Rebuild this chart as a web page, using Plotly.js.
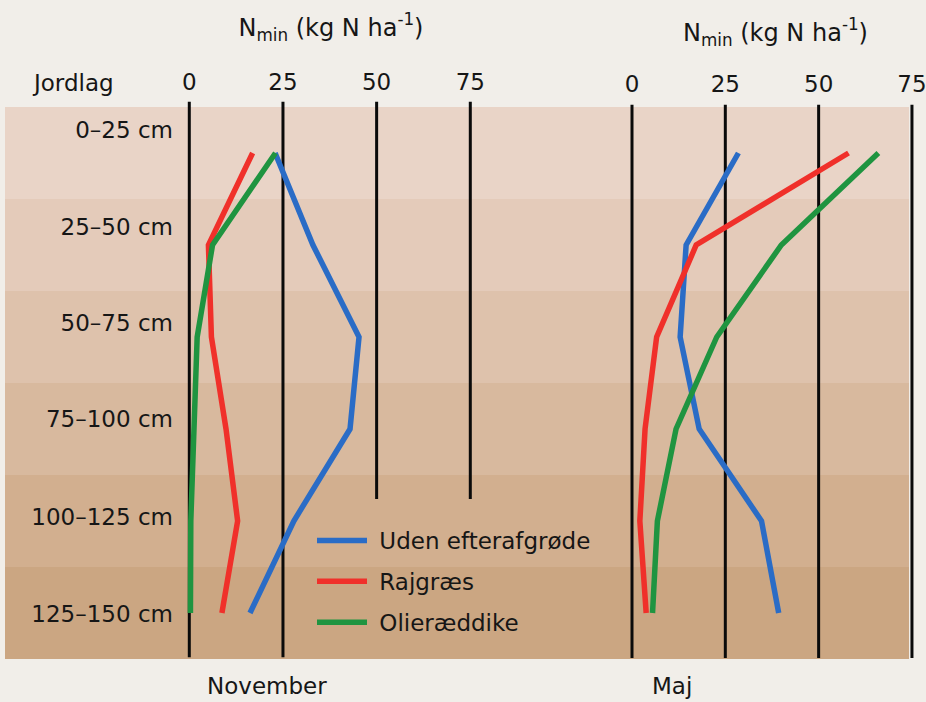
<!DOCTYPE html>
<html>
<head>
<meta charset="utf-8">
<script src="https://cdn.plot.ly/plotly-3.0.1.min.js"></script>
<style>
html,body{margin:0;padding:0;background:#f1eee9;}
#chart{width:926px;height:702px;}
</style>
</head>
<body>
<div id="chart"></div>
<script>
// ---- data ----
const layers = ['0–25 cm', '25–50 cm', '50–75 cm', '75–100 cm', '100–125 cm', '125–150 cm'];
const depthMid = [12.5, 37.5, 62.5, 87.5, 112.5, 137.5];
const novUden = [22.9, 33.0, 45.3, 42.9, 27.9, 16.2];
const novRaj  = [16.9, 5.1, 5.9, 9.8, 12.9, 8.7];
const novOlie = [23.0, 6.2, 2.1, 1.2, 0.4, 0.3];
const majUden = [28.5, 14.5, 12.9, 18.0, 34.7, 39.3];
const majRaj  = [58.0, 17.2, 6.6, 3.5, 2.1, 3.8];
const majOlie = [66.0, 40.0, 22.7, 11.8, 6.8, 5.5];
const nTicks = [0, 25, 50, 75];
const seriesNames = ['Uden efterafgrøde', 'Rajgræs', 'Olieræddike'];

// ---- styling ----
const FONT = 'DejaVu Sans, sans-serif';
const FS = 23;
const TXT = '#161616';
const colors = ['#2a6cc6', '#f0302a', '#1f9440'];
const bandColors = ['#e9d4c7', '#e4cbba', '#dec2ac', '#d8b99e', '#d2af8f', '#cba682'];
const labelDepth = [6.3, 32.6, 58.7, 84.8, 111.4, 137.8];

const W = 926, H = 702;
const px = v => v / W;

const traces = [];
const nov = [novUden, novRaj, novOlie];
const maj = [majUden, majRaj, majOlie];
for (let i = 0; i < 3; i++) {
  traces.push({
    x: nov[i], y: depthMid, type: 'scatter', mode: 'lines',
    name: '\u00a0' + seriesNames[i], legendgroup: 'g' + i,
    line: {color: colors[i], width: 5.5}, xaxis: 'x', yaxis: 'y',
    hoverinfo: 'skip'
  });
}
for (let i = 0; i < 3; i++) {
  traces.push({
    x: maj[i], y: depthMid, type: 'scatter', mode: 'lines',
    name: seriesNames[i], legendgroup: 'g' + i, showlegend: false,
    line: {color: colors[i], width: 5.5}, xaxis: 'x2', yaxis: 'y',
    hoverinfo: 'skip'
  });
}

const shapes = [];
// soil layer bands
for (let i = 0; i < layers.length; i++) {
  shapes.push({
    type: 'rect', xref: 'paper', yref: 'y', layer: 'below',
    x0: px(5), x1: px(909), y0: i * 25, y1: (i + 1) * 25,
    fillcolor: bandColors[i], line: {width: 0}
  });
}
// vertical reference lines
nTicks.forEach(t => {
  shapes.push({
    type: 'line', xref: 'x', yref: 'y', layer: 'below',
    x0: t, x1: t, y0: -1.4, y1: t >= 50 ? 106.5 : 149.5,
    line: {color: '#0a0a0a', width: 3}
  });
  shapes.push({
    type: 'line', xref: 'x2', yref: 'y', layer: 'below',
    x0: t, x1: t, y0: -0.6, y1: 149.7,
    line: {color: '#0a0a0a', width: 3}
  });
});

const titleTxt = 'N<sub>min</sub> (kg N ha<sup>-1</sup>)';
const axFont = {family: FONT, size: FS, color: TXT};
const titleFont = {family: FONT, size: 24, color: TXT};

const layout = {
  width: W, height: H,
  margin: {l: 0, r: 0, t: 0, b: 0},
  paper_bgcolor: '#f1eee9',
  plot_bgcolor: 'rgba(0,0,0,0)',
  font: axFont,
  showlegend: true,
  legend: {
    x: px(312), y: 1 - 519 / H, xanchor: 'left', yanchor: 'top',
    bgcolor: 'rgba(0,0,0,0)', font: axFont,
    tracegroupgap: 8, itemwidth: 50
  },
  xaxis: {
    domain: [px(150), px(512)], range: [-10.49, 86.13],
    side: 'top', anchor: 'y', showgrid: false, zeroline: false, showline: false,
    tickvals: nTicks, ticks: '', tickfont: axFont, ticklabelstandoff: 4,
    ticklabeloverflow: 'allow',
    title: {text: titleTxt, font: titleFont, standoff: 26}
  },
  xaxis2: {
    domain: [px(625), px(926)], range: [-1.875, 78.76],
    side: 'top', anchor: 'y', showgrid: false, zeroline: false, showline: false,
    tickvals: nTicks, ticks: '', tickfont: axFont, ticklabelstandoff: 2,
    ticklabeloverflow: 'allow',
    title: {text: titleTxt, font: titleFont, standoff: 23}
  },
  yaxis: {
    domain: [1 - 667 / H, 1 - 100 / H], range: [152.17, -1.9], autorange: false,
    anchor: 'free', position: px(173), side: 'left',
    showgrid: false, zeroline: false, showline: false, ticks: '',
    tickvals: labelDepth, ticktext: layers, tickfont: axFont
  },
  shapes: shapes,
  annotations: [
    {text: 'Jordlag', xref: 'paper', yref: 'paper', x: px(73), y: 1 - 83 / H,
     showarrow: false, font: axFont, xanchor: 'center', yanchor: 'middle'},
    {text: 'November', xref: 'paper', yref: 'paper', x: px(267), y: 1 - 686 / H,
     showarrow: false, font: axFont, xanchor: 'center', yanchor: 'middle'},
    {text: 'Maj', xref: 'paper', yref: 'paper', x: px(672), y: 1 - 686 / H,
     showarrow: false, font: axFont, xanchor: 'center', yanchor: 'middle'}
  ]
};

Plotly.newPlot('chart', traces, layout, {displayModeBar: false, staticPlot: true});
</script>
</body>
</html>
